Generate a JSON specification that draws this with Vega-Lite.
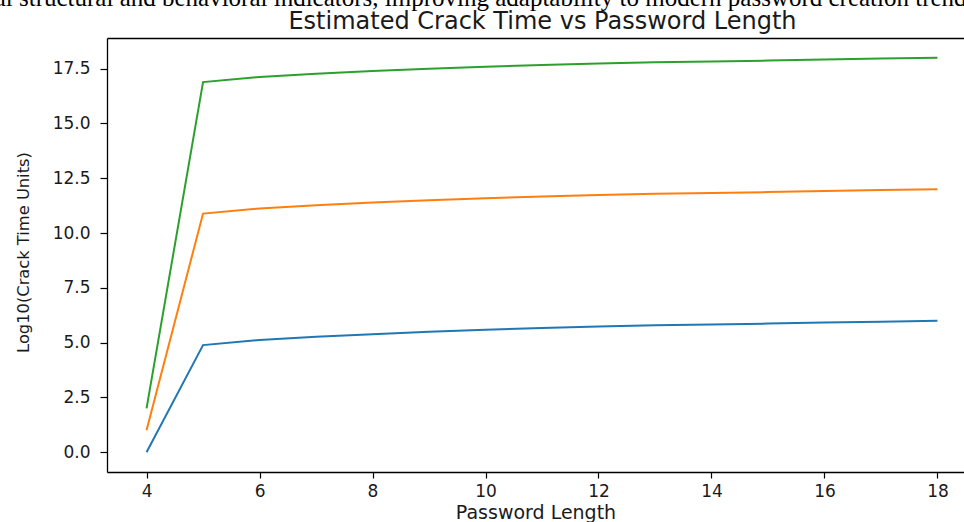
{
  "$schema": "https://vega.github.io/schema/vega-lite/v6.json",
  "width": 857,
  "height": 434,
  "autosize": {"type": "none"},
  "padding": {"left": 107, "top": 38, "right": 0, "bottom": 50},
  "background": "white",
  "config": {
    "view": {"stroke": null},
    "font": "DejaVu Sans",
    "axis": {"grid": false}
  },
  "title": {
    "text": "Estimated Crack Time vs Password Length",
    "font": "DejaVu Sans",
    "fontSize": 24,
    "fontWeight": "normal",
    "color": "#1a1a1a",
    "anchor": "middle",
    "frame": "group",
    "baseline": "alphabetic",
    "offset": 9,
    "dx": 7,
    "dy": 76
  },
  "datasets": {
    "crack": [
      {"series": "Weak", "length": 4, "log10_time": 0},
      {"series": "Weak", "length": 5, "log10_time": 4.89},
      {"series": "Weak", "length": 6, "log10_time": 5.12},
      {"series": "Weak", "length": 7, "log10_time": 5.27},
      {"series": "Weak", "length": 8, "log10_time": 5.39},
      {"series": "Weak", "length": 9, "log10_time": 5.5},
      {"series": "Weak", "length": 10, "log10_time": 5.59},
      {"series": "Weak", "length": 11, "log10_time": 5.67},
      {"series": "Weak", "length": 12, "log10_time": 5.74},
      {"series": "Weak", "length": 13, "log10_time": 5.79},
      {"series": "Weak", "length": 14, "log10_time": 5.83},
      {"series": "Weak", "length": 15, "log10_time": 5.87},
      {"series": "Weak", "length": 16, "log10_time": 5.92},
      {"series": "Weak", "length": 17, "log10_time": 5.96},
      {"series": "Weak", "length": 18, "log10_time": 6.0},
      {"series": "Medium", "length": 4, "log10_time": 1},
      {"series": "Medium", "length": 5, "log10_time": 10.89},
      {"series": "Medium", "length": 6, "log10_time": 11.12},
      {"series": "Medium", "length": 7, "log10_time": 11.27},
      {"series": "Medium", "length": 8, "log10_time": 11.39},
      {"series": "Medium", "length": 9, "log10_time": 11.5},
      {"series": "Medium", "length": 10, "log10_time": 11.59},
      {"series": "Medium", "length": 11, "log10_time": 11.67},
      {"series": "Medium", "length": 12, "log10_time": 11.74},
      {"series": "Medium", "length": 13, "log10_time": 11.79},
      {"series": "Medium", "length": 14, "log10_time": 11.83},
      {"series": "Medium", "length": 15, "log10_time": 11.87},
      {"series": "Medium", "length": 16, "log10_time": 11.92},
      {"series": "Medium", "length": 17, "log10_time": 11.96},
      {"series": "Medium", "length": 18, "log10_time": 12.0},
      {"series": "Strong", "length": 4, "log10_time": 2},
      {"series": "Strong", "length": 5, "log10_time": 16.89},
      {"series": "Strong", "length": 6, "log10_time": 17.12},
      {"series": "Strong", "length": 7, "log10_time": 17.27},
      {"series": "Strong", "length": 8, "log10_time": 17.39},
      {"series": "Strong", "length": 9, "log10_time": 17.5},
      {"series": "Strong", "length": 10, "log10_time": 17.59},
      {"series": "Strong", "length": 11, "log10_time": 17.67},
      {"series": "Strong", "length": 12, "log10_time": 17.74},
      {"series": "Strong", "length": 13, "log10_time": 17.79},
      {"series": "Strong", "length": 14, "log10_time": 17.83},
      {"series": "Strong", "length": 15, "log10_time": 17.87},
      {"series": "Strong", "length": 16, "log10_time": 17.92},
      {"series": "Strong", "length": 17, "log10_time": 17.96},
      {"series": "Strong", "length": 18, "log10_time": 18.0}
    ],
    "note": [
      {"text": "al structural and behavioral indicators, improving adaptability to modern password creation trends"}
    ]
  },
  "layer": [
    {
      "data": {"name": "crack"},
      "mark": {"type": "line", "strokeWidth": 2},
      "encoding": {
        "x": {
          "field": "length",
          "type": "quantitative",
          "scale": {"domain": [3.3, 18.47], "nice": false, "zero": false},
          "axis": {
            "orient": "bottom",
            "values": [4, 6, 8, 10, 12, 14, 16, 18],
            "title": "Password Length",
            "titleFont": "DejaVu Sans",
            "titleFontSize": 19,
            "titleFontWeight": "normal",
            "titleColor": "#1a1a1a",
            "titleBaseline": "alphabetic",
            "titleY": 46,
            "labelFont": "DejaVu Sans",
            "labelFontSize": 17,
            "labelColor": "#1a1a1a",
            "labelPadding": 5,
            "labelFlush": false,
            "tickSize": 6,
            "tickColor": "#000",
            "tickWidth": 1.2,
            "domainColor": "#000",
            "domainWidth": 1.3
          }
        },
        "y": {
          "field": "log10_time",
          "type": "quantitative",
          "scale": {"domain": [-0.9, 18.9], "nice": false, "zero": false},
          "axis": {
            "values": [0, 2.5, 5, 7.5, 10, 12.5, 15, 17.5],
            "format": ".1f",
            "title": "Log10(Crack Time Units)",
            "titleFont": "DejaVu Sans",
            "titleFontSize": 16.3,
            "titleFontWeight": "normal",
            "titleColor": "#1a1a1a",
            "titleAngle": 270,
            "titleAlign": "center",
            "titleBaseline": "middle",
            "titleX": -84,
            "titleY": 214,
            "labelFont": "DejaVu Sans",
            "labelFontSize": 17,
            "labelColor": "#1a1a1a",
            "labelPadding": 10,
            "labelFlush": false,
            "tickSize": 7,
            "tickColor": "#000",
            "tickWidth": 1.2,
            "domainColor": "#000",
            "domainWidth": 1.3
          }
        },
        "color": {
          "field": "series",
          "type": "nominal",
          "scale": {"domain": ["Weak", "Medium", "Strong"], "range": ["#1f77b4", "#ff7f0e", "#2ca02c"]},
          "legend": null
        }
      }
    },
    {
      "data": {"name": "note"},
      "mark": {"type": "text", "font": "Liberation Serif", "fontSize": 25, "align": "center", "baseline": "alphabetic", "color": "#000"},
      "encoding": {
        "x": {
          "datum": 10,
          "type": "quantitative",
          "scale": {"domain": [3.3, 18.47], "nice": false, "zero": false},
          "axis": {"orient": "top", "labels": false, "ticks": false, "title": null, "grid": false, "domain": true, "domainColor": "#000", "domainWidth": 1.3}
        },
        "y": {
          "datum": 20.36,
          "type": "quantitative",
          "scale": {"domain": [-0.9, 18.9], "nice": false, "zero": false},
          "axis": null
        },
        "text": {"field": "text"}
      }
    }
  ],
  "resolve": {"axis": {"x": "independent", "y": "independent"}}
}
